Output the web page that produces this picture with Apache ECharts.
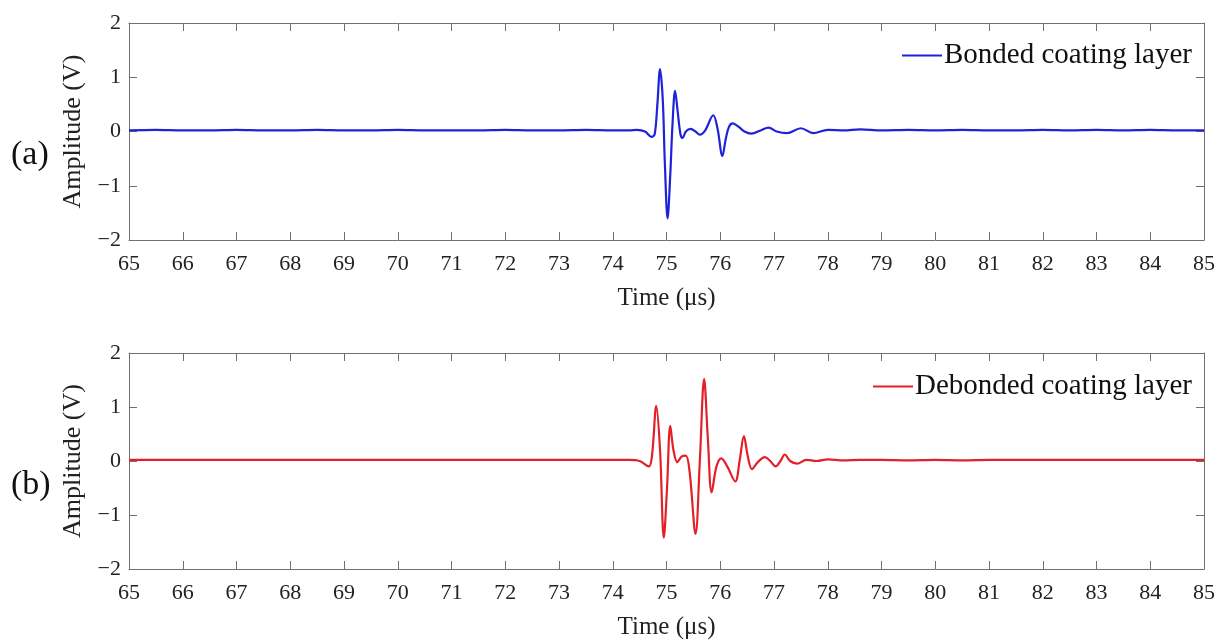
<!DOCTYPE html>
<html>
<head>
<meta charset="utf-8">
<script src="https://cdn.jsdelivr.net/npm/echarts@6/dist/echarts.min.js"></script>
<style>
html,body{margin:0;padding:0;background:#fff;}
#c{width:1223px;height:641px;}
</style>
</head>
<body>
<div id="c"></div>
<script>
// ---- data (time in µs, amplitude in V) ----
var bondedT = [65,65.5,66,66.5,67,67.5,68,68.5,69,69.5,70,70.5,71,71.5,72,72.5,73,73.5,74,74.3,74.45,74.6,74.72,74.78,74.83,74.88,74.93,74.97,75.02,75.07,75.11,75.16,75.21,75.26,75.3,75.36,75.45,75.54,75.62,75.72,75.87,75.95,76.04,76.1,76.16,76.23,76.35,76.45,76.58,76.75,76.9,77.05,77.24,77.5,77.73,78,78.3,78.6,79,79.5,80,80.5,81,81.5,82,82.5,83,83.5,84,84.5,85];
var bondedV = [0.02,0.03,0.02,0.02,0.03,0.02,0.02,0.03,0.02,0.02,0.03,0.02,0.02,0.02,0.03,0.02,0.02,0.03,0.02,0.02,0.03,0.0,-0.1,-0.05,0.5,1.15,0.6,-0.6,-1.6,-0.8,0.1,0.75,0.35,-0.05,-0.12,0.0,0.05,0.0,-0.06,0.02,0.3,0.05,-0.45,-0.15,0.08,0.15,0.08,0.0,-0.04,0.02,0.07,0.0,-0.03,0.06,-0.03,0.03,0.02,0.04,0.02,0.03,0.02,0.03,0.02,0.02,0.03,0.02,0.03,0.02,0.03,0.02,0.02];
var debondedT = [65,65.5,66,66.5,67,67.5,68,68.5,69,69.5,70,70.5,71,71.5,72,72.5,73,73.5,74,74.3,74.5,74.67,74.73,74.81,74.88,74.95,75.01,75.07,75.13,75.2,75.28,75.36,75.43,75.54,75.62,75.7,75.77,75.84,75.93,76.02,76.13,76.28,76.36,76.44,76.51,76.59,76.7,76.83,76.93,77.03,77.12,77.2,77.3,77.43,77.6,77.8,78,78.3,78.6,79,79.5,80,80.5,81,81.5,82,82.5,83,83.5,84,84.5,85];
var debondedV = [0.02,0.02,0.02,0.02,0.02,0.02,0.02,0.02,0.02,0.02,0.02,0.02,0.02,0.02,0.02,0.02,0.02,0.02,0.02,0.02,0.0,-0.1,0.1,1.02,0.2,-1.42,-0.5,0.65,0.2,-0.02,0.08,0.1,-0.2,-1.35,0.0,1.52,0.4,-0.58,-0.1,0.05,-0.1,-0.38,0.0,0.46,0.1,-0.15,-0.02,0.07,0.0,-0.1,0.0,0.12,0.0,-0.05,0.02,0.0,0.03,0.01,0.02,0.02,0.01,0.02,0.01,0.02,0.02,0.02,0.02,0.02,0.02,0.02,0.02,0.02];
var xMin = 65, xMax = 85, yMin = -2, yMax = 2;
var seriesNames = ['Bonded coating layer', 'Debonded coating layer'];
var panelLabels = ['(a)', '(b)'];

function zip(t, v){ return t.map(function(x,i){ return [x, v[i]]; }); }

var FONT = 'Liberation Serif';
var axisColor = '#707070';
var textColor = '#222';

function xAxisPair(gi){
  return [{
    type:'value', gridIndex:gi, min:xMin, max:xMax, interval:1, position:'bottom',
    name:'Time (μs)', nameLocation:'middle', nameGap:46,
    nameTextStyle:{fontFamily:FONT, fontSize:25, color:textColor},
    axisLine:{onZero:false, lineStyle:{color:axisColor, width:1}},
    axisTick:{inside:true, length:8, lineStyle:{color:axisColor}},
    axisLabel:{fontFamily:FONT, fontSize:22, color:textColor, margin:13},
    splitLine:{show:false}
  },{
    type:'value', gridIndex:gi, min:xMin, max:xMax, interval:1, position:'top',
    axisLine:{onZero:false, lineStyle:{color:axisColor, width:1}},
    axisTick:{inside:true, length:8, lineStyle:{color:axisColor}},
    axisLabel:{show:false}, splitLine:{show:false}
  }];
}
function yAxisPair(gi){
  return [{
    type:'value', gridIndex:gi, min:yMin, max:yMax, interval:1, position:'left',
    name:'Amplitude (V)', nameLocation:'middle', nameGap:43,
    nameTextStyle:{fontFamily:FONT, fontSize:26, color:textColor},
    axisLine:{show:true, onZero:false, lineStyle:{color:axisColor, width:1}},
    axisTick:{show:true, inside:true, length:8, lineStyle:{color:axisColor}},
    axisLabel:{fontFamily:FONT, fontSize:22, color:textColor, margin:8,
      formatter:function(v){ return String(v).replace('-', '\u2212'); }},
    splitLine:{show:false}
  },{
    type:'value', gridIndex:gi, min:yMin, max:yMax, interval:1, position:'right',
    axisLine:{show:true, onZero:false, lineStyle:{color:axisColor, width:1}},
    axisTick:{show:true, inside:true, length:8, lineStyle:{color:axisColor}},
    axisLabel:{show:false}, splitLine:{show:false}
  }];
}

var chart = echarts.init(document.getElementById('c'), null, {renderer:'canvas'});
chart.setOption({
  animation:false,
  backgroundColor:'#fff',
  grid:[
    {left:129, top:23, width:1075, height:217},
    {left:129, top:353, width:1075, height:217}
  ],
  xAxis: xAxisPair(0).concat(xAxisPair(1)),
  yAxis: yAxisPair(0).concat(yAxisPair(1)),
  legend:[
    {data:[seriesNames[0]], right:26, top:36, itemWidth:40, itemHeight:2, itemGap:0,
     icon:'rect', textStyle:{fontFamily:FONT, fontSize:29, color:'#111', padding:[0,0,0,-3]}},
    {data:[seriesNames[1]], right:26, top:367, itemWidth:40, itemHeight:2, itemGap:0,
     icon:'rect', textStyle:{fontFamily:FONT, fontSize:29, color:'#111', padding:[0,0,0,-3]}}
  ],
  graphic:[
    {type:'text', left:11, top:138, style:{text:panelLabels[0], font:'34px "Liberation Serif"', fill:'#111'}},
    {type:'text', left:11, top:468, style:{text:panelLabels[1], font:'34px "Liberation Serif"', fill:'#111'}}
  ],
  series:[
    {name:seriesNames[0], type:'line', xAxisIndex:0, yAxisIndex:0, data:zip(bondedT, bondedV),
     smooth:0.35, showSymbol:false, lineStyle:{color:'#1e22d8', width:2.2}, itemStyle:{color:'#1e22d8'}},
    {name:seriesNames[1], type:'line', xAxisIndex:2, yAxisIndex:2, data:zip(debondedT, debondedV),
     smooth:0.35, showSymbol:false, lineStyle:{color:'#e3202a', width:2.2}, itemStyle:{color:'#e3202a'}}
  ]
});
</script>
</body>
</html>
